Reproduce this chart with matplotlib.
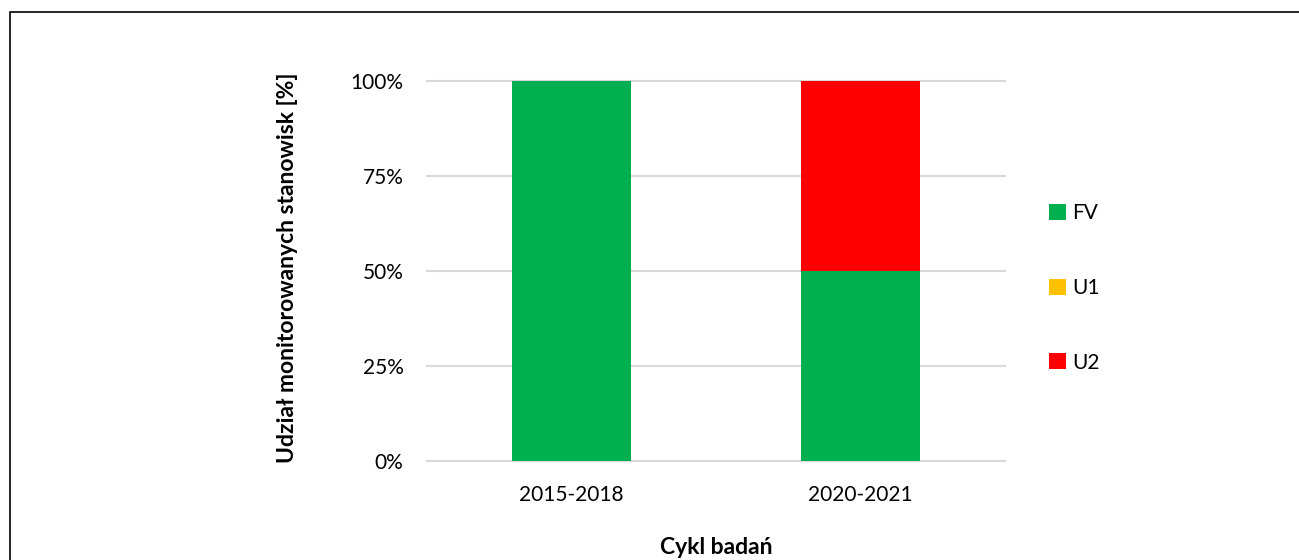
import matplotlib
matplotlib.use("Agg")
from matplotlib import pyplot as plt
from matplotlib.patches import Patch, Rectangle
from matplotlib.ticker import FuncFormatter

plt.rcParams['font.family'] = ['Lato', 'DejaVu Sans']

# data
cycles = ["2015-2018", "2020-2021"]
series_names = ["FV", "U1", "U2"]
fv = [1.0, 0.5]
u1 = [0.0, 0.0]
u2 = [0.0, 0.5]
colors = {"FV": "#00B050", "U1": "#FFC000", "U2": "#FF0000"}
y_ticks = [0, 0.25, 0.5, 0.75, 1.0]

figure = plt.figure(figsize=(12.99, 5.6), dpi=100)
ax = figure.add_axes([427 / 1299, 99 / 560, 578 / 1299, 380 / 560])

x = list(range(len(cycles)))
bottom = [0.0] * len(cycles)
for name, values in zip(series_names, [fv, u1, u2]):
    ax.bar(x, values, width=0.41, bottom=bottom, color=colors[name], zorder=3)
    bottom = [b + v for b, v in zip(bottom, values)]

ax.set_xlim(-0.5, 1.5)
ax.set_ylim(0, 1.0)
ax.set_yticks(y_ticks)
ax.yaxis.set_major_formatter(FuncFormatter(lambda v, p: "{0:.0f}%".format(v * 100)))
ax.set_xticks(x)
ax.set_xticklabels(cycles)
ax.tick_params(length=0, labelsize=15, colors="#000000")
ax.tick_params(axis="y", pad=17)
ax.tick_params(axis="x", pad=17)

for spine in ["top", "right", "left"]:
    ax.spines[spine].set_visible(False)
ax.spines["bottom"].set_color("#d9d9d9")
ax.spines["bottom"].set_linewidth(1.5)
ax.grid(axis="y", color="#d9d9d9", linewidth=1.5, zorder=0)
for line in ax.get_ygridlines():
    line.set_clip_on(False)

figure.text(288 / 1299, 1 - 268 / 560, "Udział monitorowanych stanowisk [%]",
            rotation=90, ha="center", va="center", fontsize=16.5, fontweight="bold")
figure.text(716 / 1299, 1 - 547 / 560, "Cykl badań",
            ha="center", va="center", fontsize=16.5, fontweight="bold")

handles = [Patch(facecolor=colors[n], edgecolor="none") for n in series_names]
figure.legend(handles, series_names, loc="center left",
              bbox_to_anchor=(1030 / 1299, 1 - 288 / 560), frameon=False,
              fontsize=15, handlelength=0.82, handleheight=0.82,
              handletextpad=0.3, labelspacing=2.62)

# outer border
figure.patches.append(Rectangle((10 / 1299, -0.05), 1.2, 1.05 - 12 / 560,
                                transform=figure.transFigure, fill=False,
                                edgecolor="#000000", linewidth=1.2))

figure.savefig("out.png", dpi=100)
